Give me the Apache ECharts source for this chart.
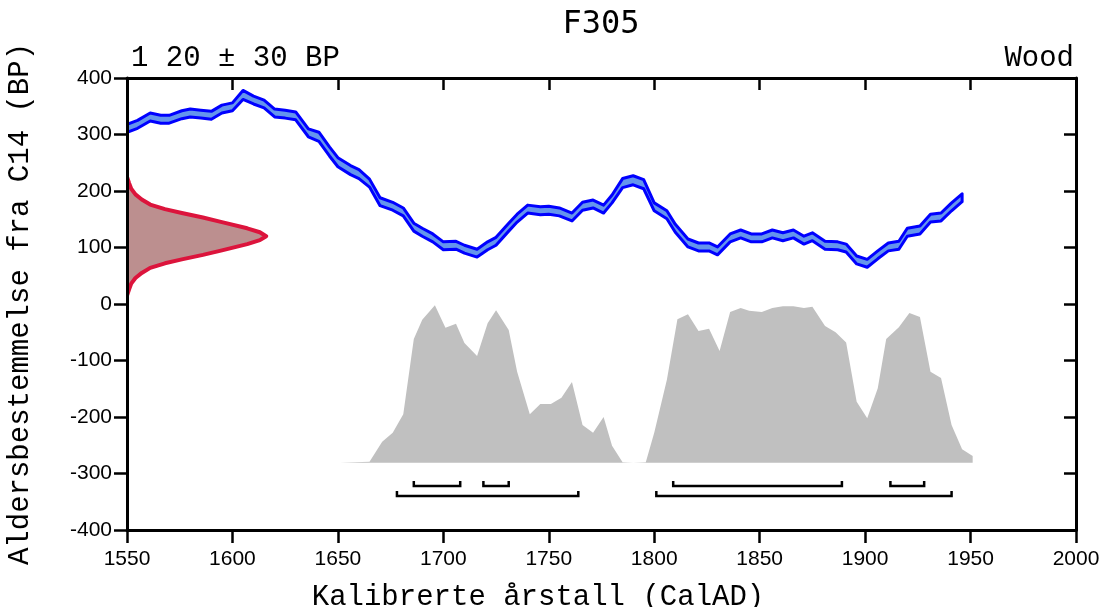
<!DOCTYPE html>
<html><head><meta charset="utf-8">
<script src="https://cdn.jsdelivr.net/npm/echarts@6/dist/echarts.min.js"></script>
<style>html,body{margin:0;padding:0;background:#fff}#c{width:1104px;height:607px}</style>
</head><body><div id="c"></div>
<script>
// ---- data ----
const titleText = 'F305';
const dateLabel = '1 20 ± 30 BP';
const materialLabel = 'Wood';
const xName = 'Kalibrerte årstall (CalAD)';
const yName = 'Aldersbestemmelse fra C14 (BP)';

// calibration curve (BP) : year, centre value, half width
const curveYears = [
  1550,1555,1561,1566,1570,1576,1580,1585,1590,1595,
  1600,1605,1610,1615,1620,1625,1630,1636,1641,1646,
  1650,1656,1660,1665,1670,1676,1681,1686,1690,1695,
  1700,1706,1710,1716,1721,1725,1731,1735,1740,1746,
  1750,1755,1761,1766,1771,1776,1780,1785,1790,1795,
  1800,1806,1810,1816,1821,1826,1830,1836,1841,1846,
  1851,1856,1861,1866,1871,1875,1881,1887,1891,1896,
  1901,1906,1911,1916,1920,1926,1931,1936,1941,1946];
const curveMid = [
  311,318,331,327,327,335,338,336,334,345,
  349,370,361,354,338,336,333,303,296,270,
  251,237,230,214,181,173,163,136,127,117,
  103,104,97,90,103,111,136,152,168,165,
  166,163,154,173,177,168,186,214,219,212,
  172,158,134,108,101,101,94,117,124,117,
  117,124,119,124,113,119,104,103,99,78,
  72,87,101,104,127,131,152,154,172,188];
const curveErr = [
  7,7,7,7,7,7,7,7,7,7,
  7,8,7,7,7,7,7,7,8,8,
  8,8,8,7,7,7,7,7,7,7,
  7,7,7,7,7,7,7,7,7,7,
  7,7,7,7,7,7,7,8,8,8,
  7,7,7,7,7,7,7,7,7,7,
  7,7,7,7,7,7,7,7,7,7,
  7,7,7,7,7,7,7,7,7,7];

// measured date distribution (BP value, drawn width in years)
const distBP    = [225,214,204,194,185,176,168,161,153,145,134,127,120,113,106,95,87,79,72,64,55,46,36,26,15];
const distWidth = [0,1,2,4,7,11,18,26,36,45,57,63,66,63,57,45,36,26,18,11,7,4,2,1,0];

// calibrated probability (drawn in chart units above the base line)
const probBase = -281;
const probYears = [1651,1665,1671,1676,1681,1686,1690,1696,1701,1706,1710,1716,1721,1725,1731,1735,1741,1746,1751,1756,1761,1766,1771,1776,1780,1785,1790,1796,1800,1806,1811,1816,1821,1826,1831,1836,1841,1845,1851,1856,1861,1866,1871,1875,1881,1886,1891,1896,1901,1906,1910,1916,1921,1926,1931,1936,1941,1946,1951];
const probValues = [-281,-279,-244,-228,-195,-62,-28,-2,-42,-35,-69,-92,-34,-11,-46,-120,-195,-177,-177,-166,-138,-214,-228,-200,-251,-280,-281,-280,-228,-134,-27,-18,-48,-44,-83,-14,-7,-12,-14,-7,-4,-4,-7,-5,-39,-50,-68,-173,-202,-149,-62,-41,-16,-23,-120,-131,-214,-257,-269];

// probability ranges
const range68 = [[1686,1708],[1719,1731],[1809,1889],[1912,1928]];
const range95 = [[1678,1764],[1801,1941]];
const level68 = -322;
const level95 = -340;

const xTickInterval = 50;
const yTickInterval = 100;

// ---- chart ----
const chart = echarts.init(document.getElementById('c'), null, {renderer: 'canvas'});
const mono = "'Liberation Mono', 'DejaVu Sans Mono', monospace";
const sans = "'Liberation Sans', Arial, sans-serif";

function bandRender(params, api) {
  const up = curveYears.map((y, i) => api.coord([y, curveMid[i] + curveErr[i]]));
  const lo = curveYears.map((y, i) => api.coord([y, curveMid[i] - curveErr[i]]));
  return {type: 'polygon', shape: {points: up.concat(lo.slice().reverse())},
    style: {fill: '#6495ED', stroke: '#0000FF', lineWidth: 3, lineJoin: 'round'}};
}
function distRender(params, api) {
  const pts = distBP.map((v, i) => api.coord([1550 + distWidth[i], v]));
  return {type: 'polygon', shape: {points: pts},
    style: {fill: '#BC8F8F', stroke: '#DC143C', lineWidth: 4, lineJoin: 'round'}};
}
function probRender(params, api) {
  const pts = [api.coord([probYears[0], probBase])];
  probYears.forEach((y, i) => pts.push(api.coord([y, probValues[i]])));
  pts.push(api.coord([probYears[probYears.length - 1], probBase]));
  return {type: 'polygon', shape: {points: pts}, style: {fill: '#C0C0C0'}};
}
function bracketRender(params, api) {
  const s = api.coord([api.value(0), api.value(2)]);
  const e = api.coord([api.value(1), api.value(2)]);
  return {type: 'polyline', shape: {points: [[s[0], s[1] - 5], [s[0], s[1]], [e[0], e[1]], [e[0], e[1] - 5]]},
    style: {stroke: '#000', lineWidth: 2.5, fill: null}};
}
const bracketData = range68.map(r => [r[0], r[1], level68]).concat(range95.map(r => [r[0], r[1], level95]));

const axisLineStyle = {color: '#000', width: 3};
chart.setOption({
  animation: false,
  backgroundColor: '#fff',
  grid: {left: 127, right: 28, top: 78, bottom: 77, containLabel: false, outerBoundsMode: 'none'},
  xAxis: [{
    type: 'value', min: 1550, max: 2000, interval: xTickInterval, position: 'bottom', z: 5,
    axisLine: {show: true, onZero: false, lineStyle: axisLineStyle},
    axisTick: {show: true, length: 13, lineStyle: {color: '#000', width: 2.5}},
    axisLabel: {fontSize: 21, fontFamily: sans, color: '#000', margin: 19, formatter: v => String(v)},
    splitLine: {show: false}
  }, {
    type: 'value', min: 1550, max: 2000, interval: xTickInterval, position: 'top', z: 5,
    axisLine: {show: true, onZero: false, lineStyle: axisLineStyle},
    axisTick: {show: true, inside: true, length: 12, lineStyle: {color: '#000', width: 2.5}},
    axisLabel: {show: false}, splitLine: {show: false}
  }],
  yAxis: [{
    type: 'value', min: -400, max: 400, interval: yTickInterval, position: 'left', z: 5,
    axisLine: {show: true, onZero: false, lineStyle: axisLineStyle},
    axisTick: {show: true, length: 13, lineStyle: {color: '#000', width: 2.5}},
    axisLabel: {fontSize: 21, fontFamily: sans, color: '#000', margin: 15, formatter: v => String(v)},
    splitLine: {show: false},
    name: yName, nameLocation: 'middle', nameRotate: 90, nameGap: 92,
    nameTextStyle: {fontFamily: mono, fontSize: 29, color: '#000'}
  }, {
    type: 'value', min: -400, max: 400, interval: yTickInterval, position: 'right', z: 5,
    axisLine: {show: true, onZero: false, lineStyle: axisLineStyle},
    axisTick: {show: true, inside: true, length: 12, lineStyle: {color: '#000', width: 2.5}},
    axisLabel: {show: false}, splitLine: {show: false}
  }],
  graphic: [
    {type: 'text', x: 601, y: 25, style: {text: titleText, align: 'center', verticalAlign: 'middle', fontFamily: "'DejaVu Sans Mono', monospace", fontSize: 32, fill: '#000'}},
    {type: 'text', x: 131, y: 58, style: {text: dateLabel, align: 'left', verticalAlign: 'middle', fontFamily: mono, fontSize: 29, fill: '#000'}},
    {type: 'text', x: 1074, y: 58, style: {text: materialLabel, align: 'right', verticalAlign: 'middle', fontFamily: mono, fontSize: 29, fill: '#000'}},
    {type: 'text', x: 538, y: 597, style: {text: xName, align: 'center', verticalAlign: 'middle', fontFamily: mono, fontSize: 29, fill: '#000'}}
  ],
  series: [
    {type: 'custom', name: 'prob', data: [[1700, 0]], renderItem: probRender, clip: true, silent: true, z: 1},
    {type: 'custom', name: 'curve', data: [[1700, 200]], renderItem: bandRender, clip: true, silent: true, z: 2},
    {type: 'custom', name: 'dist', data: [[1560, 120]], renderItem: distRender, clip: true, silent: true, z: 3},
    {type: 'custom', name: 'ranges', data: bracketData, encode: {x: [0, 1], y: 2}, renderItem: bracketRender, silent: true, z: 3}
  ]
});
</script>
</body></html>
